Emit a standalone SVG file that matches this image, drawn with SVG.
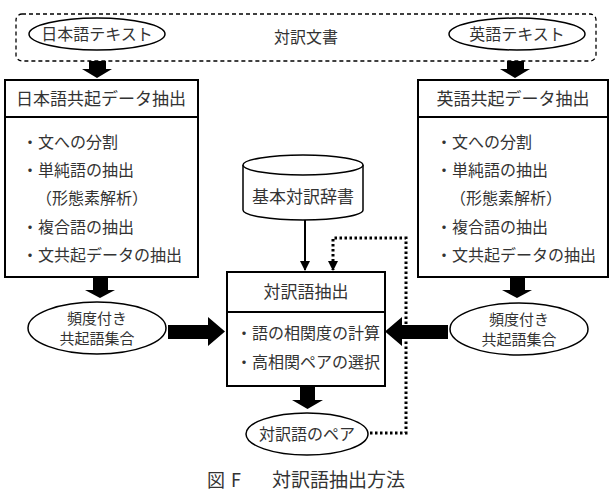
<svg xmlns="http://www.w3.org/2000/svg" width="612" height="492" viewBox="0 0 612 492">
<defs>
<style>
text{font-family:"Noto Sans CJK JP","Noto Sans CJK SC",sans-serif;fill:#333;}
.t{font-size:16px;}
.s{font-size:15px;text-anchor:middle;}
.h{font-size:17px;text-anchor:middle;}
.c{text-anchor:middle;}
.box{fill:#fff;stroke:#000;stroke-width:2;}
.ell{fill:#fff;stroke:#000;stroke-width:1.5;}
.big{fill:#000;}
</style>
<marker id="ah" markerWidth="10" markerHeight="10" refX="9" refY="5" orient="auto" markerUnits="userSpaceOnUse">
<path d="M0,0 L10,5 L0,10 Z" fill="#000"/>
</marker>
</defs>
<rect width="612" height="492" fill="#fff"/>

<g id="corpus">
<rect x="16" y="14" width="580" height="47" rx="6" fill="none" stroke="#000" stroke-width="1.3" stroke-dasharray="4,3"/>
<text class="t c" x="306" y="43">対訳文書</text>
</g>
<g id="ja-text">
<ellipse class="ell" cx="97" cy="34" rx="68" ry="16"/>
<text class="t c" x="97" y="40">日本語テキスト</text>
</g>
<g id="en-text">
<ellipse class="ell" cx="517" cy="34" rx="68" ry="16"/>
<text class="t c" x="517" y="40">英語テキスト</text>
</g>

<g id="ja-extract">
<rect class="box" x="5" y="80" width="193" height="197"/>
<line x1="5" y1="117" x2="198" y2="117" stroke="#000" stroke-width="2"/>
<text class="h" x="101" y="105">日本語共起データ抽出</text>
<text class="t" x="22" y="148">・文への分割</text>
<text class="t" x="22" y="176">・単純語の抽出</text>
<text class="t" x="36" y="204">（形態素解析）</text>
<text class="t" x="22" y="233">・複合語の抽出</text>
<text class="t" x="22" y="261">・文共起データの抽出</text>
</g>
<g id="en-extract">
<rect class="box" x="418" y="80" width="190" height="197"/>
<line x1="418" y1="117" x2="608" y2="117" stroke="#000" stroke-width="2"/>
<text class="h" x="513" y="105">英語共起データ抽出</text>
<text class="t" x="436" y="148">・文への分割</text>
<text class="t" x="436" y="176">・単純語の抽出</text>
<text class="t" x="450" y="204">（形態素解析）</text>
<text class="t" x="436" y="233">・複合語の抽出</text>
<text class="t" x="436" y="261">・文共起データの抽出</text>
</g>

<g id="dict">
<path d="M243,165 L243,210 A60,10 0 0 0 363,210 L363,165" class="ell"/>
<ellipse class="ell" cx="303" cy="165" rx="60" ry="10"/>
<text class="h" x="303" y="203">基本対訳辞書</text>
</g>

<g id="ja-freq">
<ellipse class="ell" cx="97" cy="328" rx="69" ry="26"/>
<text class="s" x="97" y="324">頻度付き</text>
<text class="s" x="97" y="344">共起語集合</text>
</g>
<g id="en-freq">
<ellipse class="ell" cx="519" cy="329" rx="69" ry="26"/>
<text class="s" x="519" y="325">頻度付き</text>
<text class="s" x="519" y="345">共起語集合</text>
</g>

<g id="pair-extract">
<rect class="box" x="227" y="272" width="158" height="114"/>
<line x1="227" y1="312" x2="385" y2="312" stroke="#000" stroke-width="2"/>
<text class="h" x="306" y="298">対訳語抽出</text>
<text class="t" x="236" y="339">・語の相関度の計算</text>
<text class="t" x="236" y="368">・高相関ペアの選択</text>
</g>

<g id="pairs">
<ellipse class="ell" cx="307" cy="434" rx="61" ry="21"/>
<text class="t c" x="307" y="440">対訳語のペア</text>
</g>

<g id="connectors">
<path class="big" d="M89,61 H106 V69 H112 L97,78 L82,69 H89 Z"/>
<path class="big" d="M507,61 H524 V69 H530 L515,78 L500,69 H507 Z"/>
<path class="big" d="M93,277 H108 V290 H115 L100,298 L85,290 H93 Z"/>
<path class="big" d="M510,277 H525 V290 H532 L517,298 L502,290 H510 Z"/>
<path class="big" d="M168,325 H208 V317 L225,331.5 L208,346 V339 H168 Z"/>
<path class="big" d="M448,325 H402 V317 L385,331.5 L402,346 V339 H448 Z"/>
<path class="big" d="M300,386 H315 V400 H323 L307.5,409 L292,400 H300 Z"/>
<line x1="305" y1="220" x2="305" y2="270" stroke="#000" stroke-width="2" marker-end="url(#ah)"/>
<path d="M370,433 H406 V238 H333 V270" fill="none" stroke="#000" stroke-width="3" stroke-dasharray="2.5,2.5" marker-end="url(#ah)"/>
</g>

<g id="caption">
<text x="207" y="487" style="font-size:18px;" fill="#222">図</text>
<text x="231" y="487" style="font-size:18px;" fill="#222">F</text>
<text x="272" y="487" style="font-size:19px;" fill="#222">対訳語抽出方法</text>
</g>
</svg>
